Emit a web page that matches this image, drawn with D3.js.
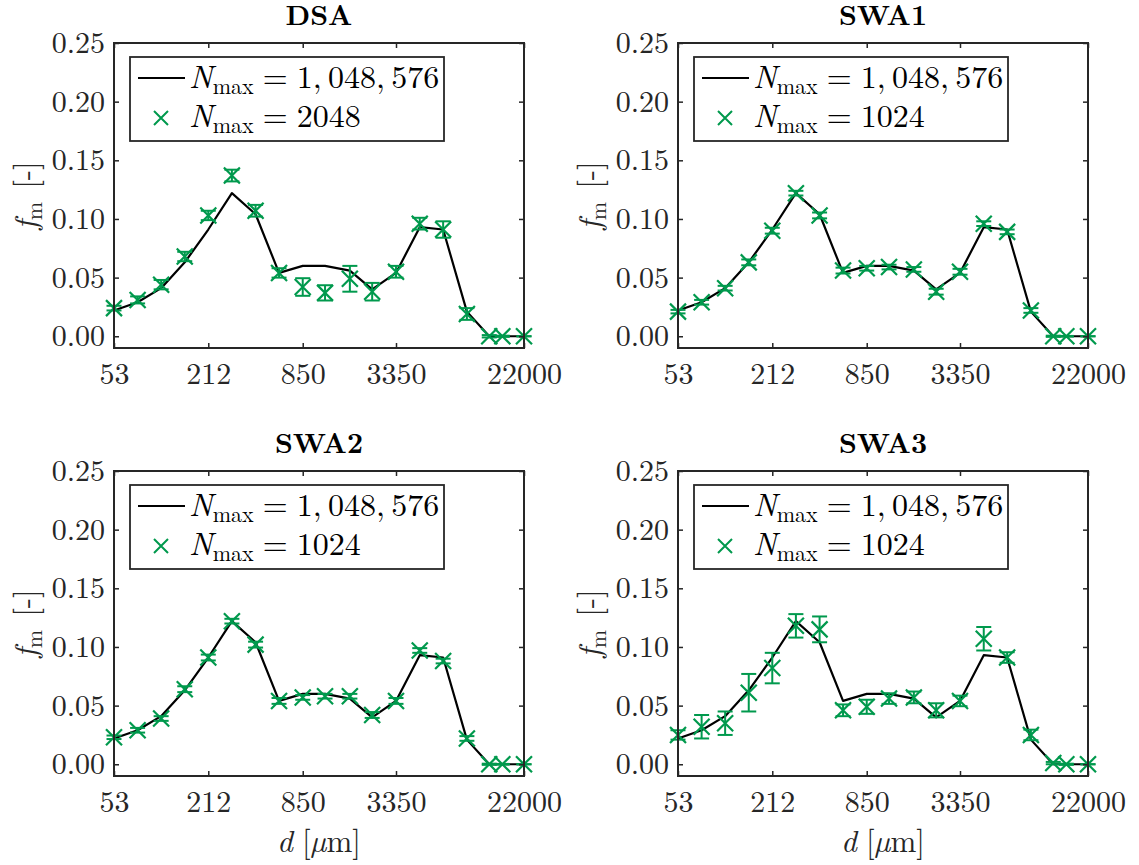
<!DOCTYPE html>
<html>
<head>
<meta charset="utf-8">
<script src="https://cdn.jsdelivr.net/npm/d3@7"></script>
<style>
  body { margin: 0; background: #fff; }
</style>
</head>
<body>
<svg></svg>
<script>
// Set dimensions and create SVG container
const width = 1139, height = 865;
const svg = d3.select('svg')
    .attr('width', width)
    .attr('height', height);

const serifFont = '"Latin Modern Roman", "Liberation Serif", serif';

// sieve sizes in micrometre, shared by all panels
const sieveSizes = [53, 75, 106, 150, 212, 300, 425, 600, 850, 1180, 1700, 2360, 3350, 4750, 6700, 9500, 13200, 16000, 22000];
const xTickValues = [53, 212, 850, 3350, 22000];
const yTickValues = [0, 0.05, 0.10, 0.15, 0.20, 0.25];

// reference curve (N_max = 1,048,576), same in every panel
const referenceFm = [0.022, 0.029, 0.041, 0.063, 0.091, 0.122, 0.104, 0.054, 0.060, 0.060, 0.056, 0.040, 0.054, 0.093, 0.091, 0.021, 0.000, 0.000, 0.000];

// sampled estimates with error bars
const dsaFm  = [0.024, 0.031, 0.044, 0.068, 0.103, 0.137, 0.107, 0.054, 0.042, 0.037, 0.049, 0.038, 0.055, 0.096, 0.091, 0.019, 0.000, 0.000, 0.000];
const dsaErr = [0.002, 0.003, 0.004, 0.004, 0.004, 0.005, 0.005, 0.004, 0.0075, 0.0065, 0.011, 0.0075, 0.005, 0.005, 0.007, 0.005, 0.001, 0.0005, 0];

const swa1Fm  = [0.021, 0.029, 0.041, 0.063, 0.090, 0.122, 0.103, 0.056, 0.058, 0.059, 0.057, 0.038, 0.055, 0.096, 0.089, 0.022, 0.000, 0.000, 0.000];
const swa1Err = [0.0015, 0.002, 0.002, 0.0025, 0.0025, 0.002, 0.0025, 0.0025, 0.002, 0.002, 0.002, 0.0025, 0.0025, 0.002, 0.002, 0.002, 0.0005, 0.0003, 0];

const swa2Fm  = [0.023, 0.029, 0.039, 0.064, 0.091, 0.122, 0.102, 0.054, 0.057, 0.058, 0.058, 0.042, 0.054, 0.097, 0.088, 0.022, 0.000, 0.000, 0.000];
const swa2Err = [0.0015, 0.002, 0.002, 0.0025, 0.0025, 0.002, 0.0025, 0.0025, 0.002, 0.002, 0.002, 0.0025, 0.0025, 0.002, 0.002, 0.002, 0.0005, 0.0003, 0];

const swa3Fm  = [0.025, 0.032, 0.035, 0.061, 0.082, 0.118, 0.115, 0.046, 0.049, 0.056, 0.057, 0.046, 0.054, 0.107, 0.091, 0.025, 0.001, 0.000, 0.000];
const swa3Err = [0.004, 0.010, 0.010, 0.016, 0.013, 0.010, 0.011, 0.005, 0.006, 0.0045, 0.005, 0.006, 0.0045, 0.010, 0.0045, 0.0045, 0.001, 0.0005, 0];

const panelTitles = ['DSA', 'SWA1', 'SWA2', 'SWA3'];
const sampleN = ['2048', '1024', '1024', '1024'];
const sampleFm = [dsaFm, swa1Fm, swa2Fm, swa3Fm];
const sampleErr = [dsaErr, swa1Err, swa2Err, swa3Err];

// layout
const pw = 410, ph = 305;
const origins = [[114, 43], [678, 43], [114, 471], [678, 471]];
const green = '#00994d';
const axisColor = '#262626';

const x = d3.scaleLog().domain([53, 22000]).range([0, pw]);
const y = d3.scaleLinear().domain([-0.01, 0.25]).range([ph, 0]);

const line = d3.line()
    .x((d, i) => x(sieveSizes[i]))
    .y(d => y(d));

panelTitles.forEach((title, p) => {
    const g = svg.append('g')
        .attr('transform', `translate(${origins[p][0]},${origins[p][1]})`)
        .attr('font-family', serifFont);

    const pts = sieveSizes.map((s, i) => ({ s: s, v: sampleFm[p][i], e: sampleErr[p][i] }));

    // reference line
    g.append('path')
        .datum(referenceFm)
        .attr('d', line)
        .attr('fill', 'none')
        .attr('stroke', '#000')
        .attr('stroke-width', 2.2)
        .attr('stroke-linejoin', 'round');

    // error bars
    const eb = g.append('g')
        .attr('stroke', green)
        .attr('stroke-width', 2)
        .selectAll('g')
        .data(pts)
        .enter().append('g');
    eb.append('line')
        .attr('x1', d => x(d.s)).attr('x2', d => x(d.s))
        .attr('y1', d => y(d.v - d.e)).attr('y2', d => y(d.v + d.e));
    eb.append('line')
        .attr('x1', d => x(d.s) - 7.5).attr('x2', d => x(d.s) + 7.5)
        .attr('y1', d => y(d.v + d.e)).attr('y2', d => y(d.v + d.e));
    eb.append('line')
        .attr('x1', d => x(d.s) - 7.5).attr('x2', d => x(d.s) + 7.5)
        .attr('y1', d => y(d.v - d.e)).attr('y2', d => y(d.v - d.e));

    // x markers
    g.append('g')
        .selectAll('path')
        .data(pts)
        .enter().append('path')
        .attr('d', d => {
            const cx = x(d.s), cy = y(d.v), r = 8;
            return `M${cx - r},${cy - r}L${cx + r},${cy + r}M${cx - r},${cy + r}L${cx + r},${cy - r}`;
        })
        .attr('stroke', green)
        .attr('stroke-width', 2.2)
        .attr('fill', 'none');

    // axes, ticks pointing inwards on all four sides
    const styleAxis = sel => {
        sel.attr('font-family', serifFont).attr('font-size', 30);
        sel.select('.domain').remove();
        sel.selectAll('line').attr('stroke', axisColor).attr('stroke-width', 1.5);
        sel.selectAll('text')
            .attr('fill', axisColor)
            .attr('font-size', 30)
            .attr('font-family', serifFont);
    };
    g.append('g')
        .attr('transform', `translate(0,${ph})`)
        .call(d3.axisBottom(x).tickValues(xTickValues).tickFormat(d => d).tickSize(-5).tickPadding(15))
        .call(styleAxis);
    g.append('g')
        .call(d3.axisTop(x).tickValues(xTickValues).tickFormat('').tickSize(-5))
        .call(styleAxis);
    g.append('g')
        .call(d3.axisLeft(y).tickValues(yTickValues).tickFormat(d3.format('.2f')).tickSize(-5).tickPadding(9))
        .call(styleAxis);
    g.append('g')
        .attr('transform', `translate(${pw},0)`)
        .call(d3.axisRight(y).tickValues(yTickValues).tickFormat('').tickSize(-5))
        .call(styleAxis);

    g.append('rect')
        .attr('width', pw).attr('height', ph)
        .attr('fill', 'none')
        .attr('stroke', axisColor)
        .attr('stroke-width', 2);

    // title
    g.append('text')
        .attr('x', pw / 2).attr('y', -18)
        .attr('text-anchor', 'middle')
        .attr('font-family', serifFont)
        .attr('font-size', 28)
        .attr('font-weight', 'bold')
        .attr('fill', '#000')
        .text(title);

    // y label
    const yl = g.append('text')
        .attr('transform', `translate(-78,${ph / 2}) rotate(-90)`)
        .attr('text-anchor', 'middle')
        .attr('font-family', serifFont)
        .attr('font-size', 31)
        .attr('fill', axisColor);
    yl.append('tspan').attr('font-style', 'italic').text('f');
    yl.append('tspan').attr('dy', 6).attr('font-size', 22).text('m');
    yl.append('tspan').attr('dy', -6).attr('dx', 13).text('[-]');

    // x label on the bottom row only
    if (p >= 2) {
        const xl = g.append('text')
            .attr('x', pw / 2).attr('y', ph + 76)
            .attr('text-anchor', 'middle')
            .attr('font-family', serifFont)
            .attr('font-size', 31)
            .attr('fill', axisColor);
        xl.append('tspan').attr('font-style', 'italic').text('d');
        xl.append('tspan').attr('dx', 9).text('[');
        xl.append('tspan').attr('font-style', 'italic').text('\u00b5');
        xl.append('tspan').text('m]');
    }

    // legend
    const lg = g.append('g').attr('transform', 'translate(16,14)');
    lg.append('rect')
        .attr('width', 314).attr('height', 84)
        .attr('fill', '#fff')
        .attr('stroke', axisColor)
        .attr('stroke-width', 1.8);
    lg.append('line')
        .attr('x1', 8).attr('x2', 55)
        .attr('y1', 21).attr('y2', 21)
        .attr('stroke', '#000').attr('stroke-width', 2.2);
    lg.append('path')
        .attr('d', 'M24,54L38,68M24,68L38,54')
        .attr('stroke', green).attr('stroke-width', 2);

    const legendRows = ['1,\u2009048,\u2009576', sampleN[p]];
    legendRows.forEach((val, r) => {
        const t = lg.append('text')
            .attr('x', 59).attr('y', 31 + r * 39)
            .attr('font-family', serifFont)
            .attr('font-size', 32)
            .attr('fill', '#000');
        t.append('tspan').attr('font-style', 'italic').text('N');
        t.append('tspan').attr('dy', 6).attr('font-size', 22).text('max');
        t.append('tspan').attr('dy', -6).attr('dx', 9).text('=');
        t.append('tspan').attr('dx', 9).text(val);
    });
});
</script>
</body>
</html>
